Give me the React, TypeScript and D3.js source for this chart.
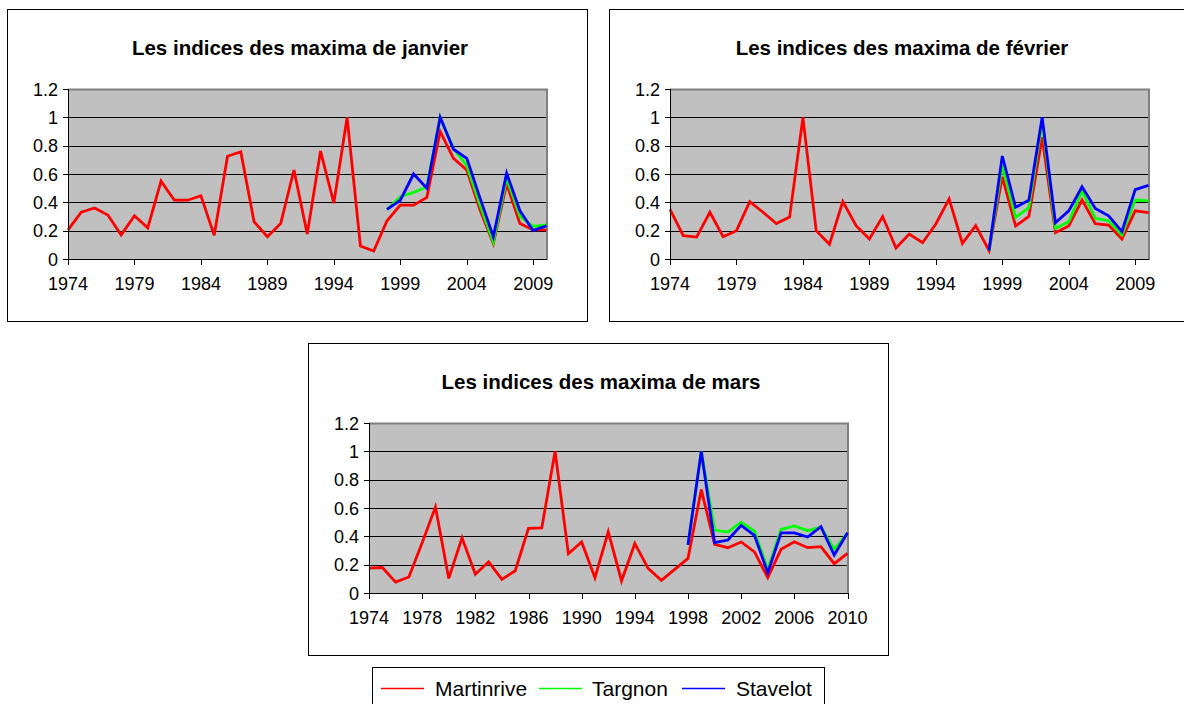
import React from "react";
import * as d3 from "d3";

const years: number[] = d3.range(1974, 2011);

const janMartinrive = [0.205,0.33,0.36,0.31,0.17,0.305,0.22,0.55,0.415,0.415,0.447,0.167,0.725,0.757,0.263,0.157,0.25,0.628,0.176,0.762,0.395,1.0,0.092,0.056,0.27,0.38,0.38,0.435,0.9,0.71,0.628,0.346,0.11,0.53,0.25,0.205,0.205];
const janTargnon = [0.35,0.44,0.47,0.51,1.0,0.78,0.66,0.38,0.12,0.57,0.3,0.23,0.24];
const janStavelot = [0.35,0.415,0.6,0.5,1.0,0.775,0.71,0.43,0.157,0.605,0.34,0.2,0.235];

const febMartinrive = [0.35,0.165,0.155,0.33,0.157,0.2,0.405,0.33,0.25,0.296,1.0,0.2,0.104,0.405,0.235,0.141,0.3,0.078,0.176,0.115,0.247,0.424,0.11,0.235,0.06,0.58,0.233,0.3,0.86,0.186,0.233,0.416,0.25,0.24,0.141,0.34,0.327];
const febTargnon = [0.06,0.66,0.294,0.362,0.97,0.216,0.263,0.48,0.287,0.27,0.17,0.416,0.41];
const febStavelot = [0.06,0.727,0.365,0.415,1.0,0.256,0.34,0.51,0.357,0.305,0.193,0.49,0.52];

const marMartinrive = [0.176,0.18,0.077,0.113,0.355,0.607,0.103,0.39,0.132,0.22,0.096,0.157,0.456,0.46,1.0,0.277,0.36,0.108,0.432,0.085,0.35,0.174,0.089,0.167,0.244,0.73,0.343,0.32,0.36,0.29,0.108,0.308,0.362,0.32,0.327,0.207,0.28];
const marTargnon = [0.34,1.0,0.444,0.43,0.5,0.437,0.167,0.449,0.473,0.44,0.465,0.31,0.42];
const marStavelot = [0.34,1.0,0.355,0.374,0.477,0.407,0.143,0.425,0.425,0.395,0.468,0.268,0.425];

const stationStart = 1998;
const seriesNames = ["Martinrive", "Targnon", "Stavelot"];
const seriesColors = ["#ff0000", "#00ff00", "#0000ff"];
const yTicks = [0, 0.2, 0.4, 0.6, 0.8, 1, 1.2];
const tickLabelsA = [1974, 1979, 1984, 1989, 1994, 1999, 2004, 2009];
const tickLabelsB = [1974, 1978, 1982, 1986, 1990, 1994, 1998, 2002, 2006, 2010];

type Pt = { year: number; v: number | null };

function full(vals: number[]): Pt[] {
  return years.map((y, i) => ({ year: y, v: vals[i] }));
}
function late(vals: number[]): Pt[] {
  return years.map((y) => {
    const i = y - stationStart;
    return { year: y, v: i >= 0 && i < vals.length ? vals[i] : null };
  });
}

const FONT = "Liberation Sans, Arial, sans-serif";

function Panel(props: {
  x: number; y: number; title: string; series: Pt[][]; xTicks: number[];
}) {
  const W = 580, H = 312;
  const pl = 61, pt = 80, pr = 539.5, pb = 250;
  const xs = d3.scaleLinear().domain([1974, 2010]).range([pl, pr]);
  const ys = d3.scaleLinear().domain([0, 1.2]).range([pb, pt]);
  const line = d3.line<Pt>()
    .defined((d) => d.v !== null)
    .x((d) => xs(d.year))
    .y((d) => ys(d.v as number));
  return (
    <g transform={`translate(${props.x},${props.y})`}>
      <rect x={0.5} y={0.5} width={W} height={H} fill="#fff" stroke="#000" strokeWidth={1} />
      <text x={W / 2 + 3} y={46} textAnchor="middle" fontFamily={FONT} fontWeight="bold" fontSize={20.5}>{props.title}</text>
      <rect x={pl} y={pt} width={pr - pl} height={pb - pt} fill="#c0c0c0" />
      {yTicks.filter((t) => t > 0 && t < 1.2).map((t) => (
        <line key={t} x1={pl} x2={pr} y1={Math.round(ys(t)) + 0.5} y2={Math.round(ys(t)) + 0.5} stroke="#000" strokeWidth={1} />
      ))}
      <polyline points={`${pl},${pt + 0.5} ${pr + 0.5},${pt + 0.5} ${pr + 0.5},${pb}`} fill="none" stroke="#808080" strokeWidth={2} />
      {props.series.map((s, i) => (
        <path key={i} d={line(s) || ""} fill="none" stroke={seriesColors[i]} strokeWidth={2.8} strokeLinejoin="miter" />
      ))}
      <line x1={pl + 0.5} x2={pl + 0.5} y1={pt} y2={pb + 0.5} stroke="#000" strokeWidth={1} />
      <line x1={pl} x2={pr + 1} y1={pb + 0.5} y2={pb + 0.5} stroke="#000" strokeWidth={1} />
      {yTicks.map((t) => (
        <g key={t}>
          <line x1={pl - 5} x2={pl} y1={Math.round(ys(t)) + 0.5} y2={Math.round(ys(t)) + 0.5} stroke="#000" />
          <text x={pl - 10} y={ys(t) + 6.5} textAnchor="end" fontFamily={FONT} fontSize={18}>{d3.format("~g")(t)}</text>
        </g>
      ))}
      {props.xTicks.map((t) => (
        <g key={t}>
          <line x1={Math.round(xs(t)) + 0.5} x2={Math.round(xs(t)) + 0.5} y1={pb} y2={pb + 6} stroke="#000" />
          <text x={xs(t)} y={281} textAnchor="middle" fontFamily={FONT} fontSize={18}>{t}</text>
        </g>
      ))}
    </g>
  );
}

export default function App() {
  const legendX = 372, legendY = 667;
  const items = [
    { name: seriesNames[0], lx: 9, tx: 63 },
    { name: seriesNames[1], lx: 167, tx: 220 },
    { name: seriesNames[2], lx: 310, tx: 364 },
  ];
  return (
    <svg width={1184} height={704} style={{ position: "absolute", left: 0, top: 0 }}>
      <rect width={1184} height={704} fill="#fff" />
      <Panel x={7} y={9} title="Les indices des maxima de janvier" xTicks={tickLabelsA}
        series={[full(janMartinrive), late(janTargnon), late(janStavelot)]} />
      <Panel x={609} y={9} title="Les indices des maxima de février" xTicks={tickLabelsA}
        series={[full(febMartinrive), late(febTargnon), late(febStavelot)]} />
      <Panel x={308} y={343} title="Les indices des maxima de mars" xTicks={tickLabelsB}
        series={[full(marMartinrive), late(marTargnon), late(marStavelot)]} />
      <g transform={`translate(${legendX},${legendY})`}>
        <rect x={0.5} y={0.5} width={452} height={50} fill="#fff" stroke="#000" />
        {items.map((it, i) => (
          <g key={i}>
            <line x1={it.lx} x2={it.lx + 43} y1={21.5} y2={21.5} stroke={seriesColors[i]} strokeWidth={1.5} />
            <text x={it.tx} y={28.5} fontFamily={FONT} fontSize={21}>{it.name}</text>
          </g>
        ))}
      </g>
    </svg>
  );
}
